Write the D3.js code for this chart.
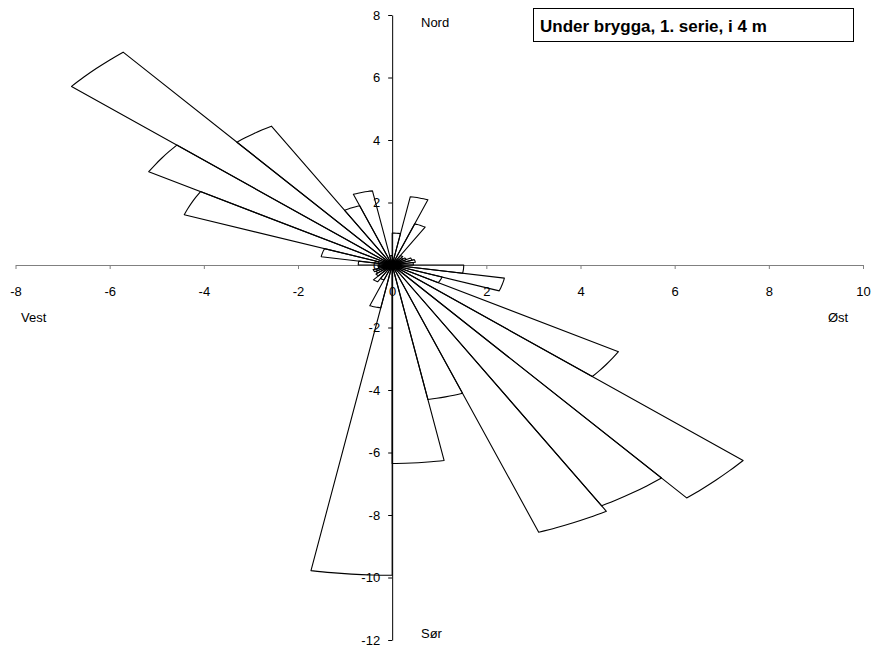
<!DOCTYPE html>
<html>
<head>
<meta charset="utf-8">
<script src="https://cdn.jsdelivr.net/npm/d3@7/dist/d3.min.js"></script>
<style>
  body { margin: 0; background: #fff; }
  svg { display: block; font-family: "Liberation Sans", Arial, sans-serif; }
</style>
</head>
<body>
<script>
// Sector start (compass degrees, 10 deg wide) and length of each sector
const sectorStart = [0, 10, 20, 30, 40, 50, 60, 70, 80, 90, 100, 110,
                     120, 130, 140, 150, 160, 170, 180, 190, 200, 210, 220, 230,
                     240, 250, 260, 270, 280, 290, 300, 310, 320, 330, 340, 350];
const sectorValue = [1.02, 2.22, 1.40, 0.35, 0.30, 0.35, 0.45, 0.50, 0.45, 1.52, 2.42, 1.13,
                     5.55, 9.73, 8.90, 9.10, 4.37, 6.35, 9.93, 1.39, 0.50, 0.62, 0.45, 0.40,
                     0.43, 0.30, 0.30, 0.72, 1.53, 4.70, 5.97, 8.89, 5.13, 2.02, 2.41, 0.30];
const sectorWidth = 10;

const xTicks = [-8, -6, -4, -2, 0, 2, 4, 6, 8, 10];
const yTicks = [-12, -10, -8, -6, -4, -2, 0, 2, 4, 6, 8];
const title = 'Under brygga, 1. serie, i 4 m';

const width = 875, height = 653;

const svg = d3.select('body').append('svg')
    .attr('width', width)
    .attr('height', height);

const x = d3.scaleLinear().domain([-8, 10]).range([15.5, 863]);
const y = d3.scaleLinear().domain([-12, 8]).range([640, 15]);

// Axes crossing at the origin
svg.append('g')
    .attr('transform', `translate(0,${y(0)})`)
    .call(d3.axisBottom(x).tickValues(xTicks).tickFormat(d => String(d))
        .tickSize(4).tickSizeOuter(0).tickPadding(18))
    .call(g => g.select('.domain').attr('stroke', '#808080'))
    .call(g => g.selectAll('.tick line').attr('stroke', '#808080'))
    .call(g => g.selectAll('text').attr('font-size', 13).attr('font-family', null));

svg.append('g')
    .attr('transform', `translate(${x(0)},0)`)
    .call(d3.axisLeft(y).tickValues(yTicks).tickFormat(d => String(d))
        .tickSize(4).tickSizeOuter(0).tickPadding(8))
    .call(g => g.selectAll('text').attr('font-size', 13).attr('font-family', null));

// Sectors: straight radial edges, smoothed arc
const toXY = (r, deg) => {
  const a = deg * Math.PI / 180;
  return [x(r * Math.sin(a)), y(r * Math.cos(a))];
};
const arcLine = d3.line().curve(d3.curveCatmullRom.alpha(0.5));

svg.append('g')
    .selectAll('path')
    .data(sectorStart.map((s, i) => ({start: s, value: sectorValue[i]})))
    .join('path')
    .attr('fill', 'none')
    .attr('stroke', '#000')
    .attr('stroke-width', 1.1)
    .attr('stroke-linejoin', 'round')
    .attr('d', d => {
      const pts = [];
      for (let k = 0; k <= 4; k++) pts.push(toXY(d.value, d.start + k * sectorWidth / 4));
      return `M${x(0)},${y(0)}L` + arcLine(pts).slice(1) + `L${x(0)},${y(0)}`;
    });

// Compass labels
const labels = [
  {t: 'Nord', x: 421, y: 27},
  {t: 'Sør', x: 421, y: 638},
  {t: 'Vest', x: 21, y: 322},
  {t: 'Øst', x: 828, y: 322}
];
svg.append('g').selectAll('text')
    .data(labels)
    .join('text')
    .attr('x', d => d.x)
    .attr('y', d => d.y)
    .attr('font-size', 13)
    .text(d => d.t);

// Title box
svg.append('rect')
    .attr('x', 533.5).attr('y', 8.5)
    .attr('width', 320).attr('height', 33)
    .attr('fill', '#fff').attr('stroke', '#000');
svg.append('text')
    .attr('x', 540).attr('y', 32)
    .attr('font-size', 17)
    .attr('font-weight', 'bold')
    .text(title);
</script>
</body>
</html>
